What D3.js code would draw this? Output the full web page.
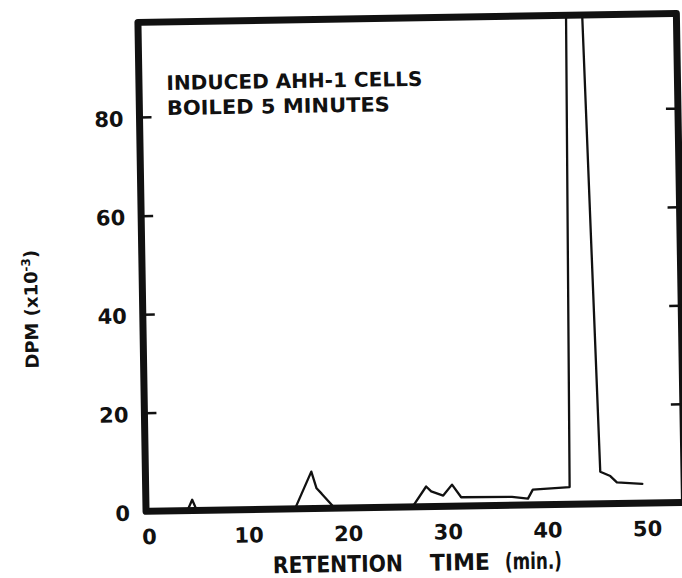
<!DOCTYPE html>
<html>
<head>
<meta charset="utf-8">
<script src="https://cdn.jsdelivr.net/npm/d3@7/dist/d3.min.js"></script>
<style>
  html, body { margin: 0; padding: 0; background: #ffffff; }
  svg { display: block; }
  text { font-family: "DejaVu Sans", sans-serif; font-weight: bold; fill: #111; }
</style>
</head>
<body>
<svg id="chart" width="682" height="578"></svg>
<script>
// Radiochromatogram: DPM vs retention time, boiled induced AHH-1 cells
const retentionMin = [0, 3.9, 4.4, 4.85, 14.7, 16.4, 16.9, 17.4, 18.7, 26.5, 27.9, 28.4, 29.6, 30.5, 31.4, 36.5, 38.1, 38.6, 42.3, 42.75, 44.28, 45.4, 46.4, 47.05, 49.6];
// DPM x 10^-3; the 42.75-44.28 peak runs off the top of the plot
const dpmThousands = [0, 0, 2.2, 0, 0, 7.5, 4.1, 3.0, 0, 0, 4.1, 3.1, 2.2, 4.4, 1.8, 1.7, 1.3, 3.1, 3.5, 105, 105, 6.5, 5.6, 4.3, 3.9];

const xTickValues = [0, 10, 20, 30, 40, 50];
const yLabelValues = [0, 20, 40, 60, 80];
const yTickValues = [20, 40, 60, 80];

const titleLines = ["INDUCED AHH-1 CELLS", "BOILED 5 MINUTES"];
const xTitleWords = ["RETENTION", "TIME", "(min.)"];

const frame = { left: 142, right: 680.5, top: 18, bottom: 507 };

const x = d3.scaleLinear().domain([-0.25, 53.8]).range([frame.left, frame.right]);
const y = d3.scaleLinear().domain([0, 99.2]).range([frame.bottom, frame.top]);

const svg = d3.select("#chart");
// the whole plate sits with a slight counter-clockwise tilt
const g = svg.append("g").attr("transform", "rotate(-0.95, 407, 265)");

g.append("defs").append("clipPath").attr("id", "plot-clip")
  .append("rect")
  .attr("x", frame.left).attr("y", frame.top)
  .attr("width", frame.right - frame.left).attr("height", 40 + frame.bottom - frame.top);

// trace
const line = d3.line()
  .x((d, i) => x(retentionMin[i]))
  .y(d => y(d));

g.append("path")
  .datum(dpmThousands)
  .attr("clip-path", "url(#plot-clip)")
  .attr("d", line)
  .attr("fill", "none")
  .attr("stroke", "#111")
  .attr("stroke-width", 2.3)
  .attr("stroke-linejoin", "round")
  .attr("stroke-linecap", "round");

// heavy frame
g.append("rect")
  .attr("x", frame.left).attr("y", frame.top)
  .attr("width", frame.right - frame.left).attr("height", frame.bottom - frame.top)
  .attr("fill", "none")
  .attr("stroke", "#111")
  .attr("stroke-width", 7)
  .attr("stroke-linejoin", "round");

// inward ticks on the left and right edges
const leftTicks = g.append("g")
  .attr("transform", `translate(${frame.left},0)`)
  .call(d3.axisRight(y).tickValues(yTickValues).tickSize(12).tickFormat(""));
const rightTicks = g.append("g")
  .attr("transform", `translate(${frame.right},0)`)
  .call(d3.axisLeft(y).tickValues(yTickValues).tickSize(12).tickFormat(""));
[leftTicks, rightTicks].forEach(a => {
  a.select(".domain").remove();
  a.selectAll("line").attr("stroke", "#111").attr("stroke-width", 2.5);
});

// y labels
const yAxis = g.append("g")
  .attr("transform", `translate(${frame.left},0)`)
  .call(d3.axisLeft(y).tickValues(yLabelValues).tickSize(0).tickPadding(16).tickFormat(d3.format("d")));
yAxis.select(".domain").remove();
yAxis.selectAll("text")
  .attr("dy", "0.41em")
  .style("font-family", "'DejaVu Sans', sans-serif")
  .style("font-weight", "bold")
  .style("font-size", "21px")
  .attr("fill", "#111");

// x labels
const xAxis = g.append("g")
  .attr("transform", `translate(0,${frame.bottom})`)
  .call(d3.axisBottom(x).tickValues(xTickValues).tickSize(0).tickPadding(18).tickFormat(d3.format("d")));
xAxis.select(".domain").remove();
xAxis.selectAll("text")
  .style("font-family", "'DejaVu Sans', sans-serif")
  .style("font-weight", "bold")
  .style("font-size", "21px")
  .attr("fill", "#111");

// x title
const xTitleSpans = [[268, 130], [425, 60], [500, 57]];
g.selectAll("text.xtitle")
  .data(xTitleWords)
  .join("text")
  .attr("class", "xtitle")
  .attr("x", (d, i) => xTitleSpans[i][0])
  .attr("y", 571)
  .attr("textLength", (d, i) => xTitleSpans[i][1])
  .attr("lengthAdjust", "spacingAndGlyphs")
  .style("font-size", "23px")
  .text(d => d);

// y title
const yTitle = g.append("text")
  .attr("transform", "translate(37,303) rotate(-90)")
  .attr("text-anchor", "middle")
  .style("font-size", "18px");
yTitle.append("tspan").text("DPM (x10");
yTitle.append("tspan").attr("dy", -7).style("font-size", "12px").text("-3");
yTitle.append("tspan").attr("dy", 7).text(")");

// panel caption
const captionWidths = [256, 223];
g.selectAll("text.caption")
  .data(titleLines)
  .join("text")
  .attr("class", "caption")
  .attr("x", 169.5)
  .attr("y", (d, i) => 86 + i * 25)
  .attr("textLength", (d, i) => captionWidths[i])
  .attr("lengthAdjust", "spacingAndGlyphs")
  .style("font-size", "20px")
  .text(d => d);
</script>
</body>
</html>
